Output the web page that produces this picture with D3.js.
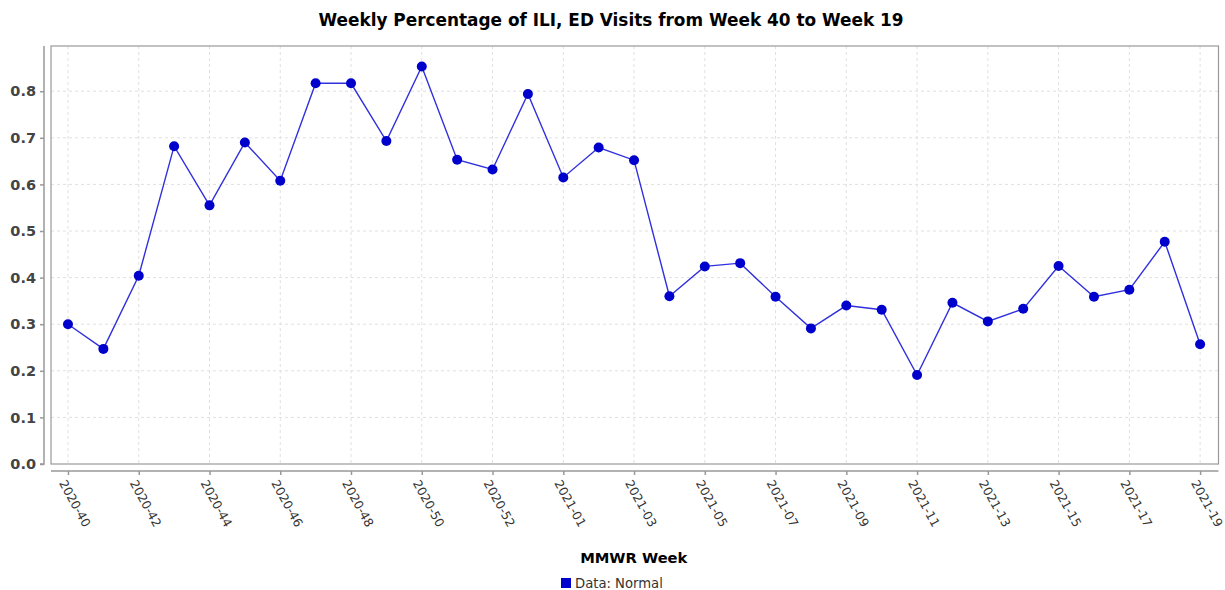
<!DOCTYPE html>
<html>
<head>
<meta charset="utf-8">
<script src="https://cdn.jsdelivr.net/npm/d3@7"></script>
<style>
  html, body { margin: 0; padding: 0; background: #fff; }
  svg { display: block; }
</style>
</head>
<body>
<svg id="chart" width="1225" height="590"></svg>
<script>
// ---- Data ----
const weeks = [
  "2020-40","2020-41","2020-42","2020-43","2020-44","2020-45","2020-46","2020-47",
  "2020-48","2020-49","2020-50","2020-51","2020-52","2020-53",
  "2021-01","2021-02","2021-03","2021-04","2021-05","2021-06","2021-07","2021-08",
  "2021-09","2021-10","2021-11","2021-12","2021-13","2021-14","2021-15","2021-16",
  "2021-17","2021-18","2021-19"
];
const values = [
  0.300, 0.247, 0.404, 0.682, 0.555, 0.690, 0.608, 0.817,
  0.817, 0.693, 0.853, 0.653, 0.632, 0.794,
  0.615, 0.679, 0.652, 0.360, 0.424, 0.431, 0.359, 0.291,
  0.340, 0.331, 0.191, 0.346, 0.306, 0.333, 0.425, 0.359,
  0.374, 0.477, 0.257
];
const yTicks = [0.0, 0.1, 0.2, 0.3, 0.4, 0.5, 0.6, 0.7, 0.8];
const xTickLabels = weeks.filter((d, i) => i % 2 === 0);
const titleText = "Weekly Percentage of ILI, ED Visits from Week 40 to Week 19";
const xAxisTitle = "MMWR Week";
const legendLabel = "Data: Normal";

// ---- Layout ----
const svg = d3.select("#chart");
const plot = { left: 51, right: 1218.5, top: 46, bottom: 464 };

const x = d3.scaleLinear().domain([-0.48, weeks.length - 1 + 0.52]).range([plot.left, plot.right]);
const y = d3.scaleLinear().domain([0, 0.897]).range([plot.bottom, plot.top]);

// Title
svg.append("text")
  .attr("x", 611).attr("y", 26)
  .attr("text-anchor", "middle")
  .attr("font-family", "DejaVu Sans, sans-serif")
  .attr("font-weight", "bold")
  .attr("font-size", 16.9)
  .attr("fill", "#000")
  .text(titleText);

// Grid
const grid = svg.append("g");
grid.selectAll("line.h").data(yTicks.slice(1)).enter().append("line")
  .attr("x1", plot.left).attr("x2", plot.right)
  .attr("y1", d => y(d)).attr("y2", d => y(d))
  .attr("stroke", "#e0e0e0").attr("stroke-width", 1).attr("stroke-dasharray", "3,3");
grid.selectAll("line.v").data(xTickLabels).enter().append("line")
  .attr("x1", d => x(weeks.indexOf(d))).attr("x2", d => x(weeks.indexOf(d)))
  .attr("y1", plot.top).attr("y2", plot.bottom)
  .attr("stroke", "#e0e0e0").attr("stroke-width", 1).attr("stroke-dasharray", "3,3");

// Plot outline
svg.append("rect")
  .attr("x", plot.left).attr("y", plot.top)
  .attr("width", plot.right - plot.left).attr("height", plot.bottom - plot.top)
  .attr("fill", "none").attr("stroke", "#999").attr("stroke-width", 1.2);

// Y axis
const yAxis = d3.axisLeft(y).tickValues(yTicks).tickFormat(d3.format(".1f")).tickSize(4).tickPadding(4);
const gy = svg.append("g").attr("transform", `translate(44,0)`).call(yAxis);
gy.select(".domain").attr("stroke", "#999").attr("stroke-width", 1.5)
  .attr("d", `M-4,${plot.bottom}H0V${plot.top}`);
gy.selectAll(".tick line").attr("stroke", "#999").attr("stroke-width", 1.5);
gy.selectAll(".tick text")
  .attr("font-family", "DejaVu Sans, sans-serif")
  .attr("font-weight", "bold")
  .attr("font-size", 14.5)
  .attr("fill", "#444");

// X axis
const xAxis = d3.axisBottom(x)
  .tickValues(xTickLabels.map(d => weeks.indexOf(d)))
  .tickFormat(i => weeks[i]).tickSize(4);
const gx = svg.append("g").attr("transform", `translate(0,471)`).call(xAxis);
gx.select(".domain").attr("stroke", "#999").attr("stroke-width", 1.5)
  .attr("d", `M${plot.left},0H${plot.right}`);
gx.selectAll(".tick line").attr("stroke", "#999").attr("stroke-width", 1.5);
gx.selectAll(".tick text")
  .attr("font-family", "DejaVu Sans, sans-serif")
  .attr("font-size", 12.3)
  .attr("fill", "#333")
  .attr("text-anchor", "start")
  .attr("y", 0)
  .attr("x", 0)
  .attr("transform", "translate(-6,10) rotate(61)")
  .attr("dy", "0.35em");

// X axis title
svg.append("text")
  .attr("x", (plot.left + plot.right) / 2 - 1).attr("y", 563)
  .attr("text-anchor", "middle")
  .attr("font-family", "DejaVu Sans, sans-serif")
  .attr("font-weight", "bold")
  .attr("font-size", 14.7)
  .attr("fill", "#000")
  .text(xAxisTitle);

// Line
const line = d3.line().x((d, i) => x(i)).y(d => y(d));
svg.append("path")
  .datum(values)
  .attr("d", line)
  .attr("fill", "none")
  .attr("stroke", "#3030dd")
  .attr("stroke-width", 1.4);

// Points
svg.selectAll("circle.pt").data(values).enter().append("circle")
  .attr("cx", (d, i) => x(i)).attr("cy", d => y(d))
  .attr("r", 5)
  .attr("fill", "#0000cc");

// Legend
const lg = svg.append("g");
lg.append("rect").attr("x", 561).attr("y", 578).attr("width", 10).attr("height", 10).attr("fill", "#0000cc");
lg.append("text").attr("x", 575).attr("y", 588)
  .attr("font-family", "DejaVu Sans, sans-serif")
  .attr("font-size", 13.2)
  .attr("fill", "#333")
  .text(legendLabel);
</script>
</body>
</html>
